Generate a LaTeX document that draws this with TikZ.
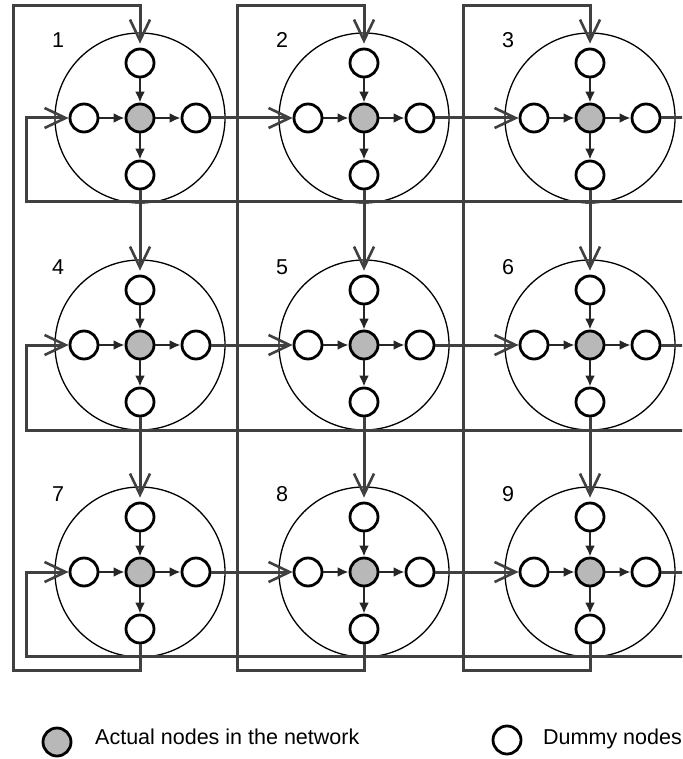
\documentclass[tikz,border=0pt]{standalone}
\usepackage{fontspec}
\setmainfont{Liberation Sans}
\usetikzlibrary{arrows.meta}
\begin{document}
\begin{tikzpicture}[x=1pt,y=-1pt,
  conn/.style={line width=3pt, draw=black!75},
  bigc/.style={circle, draw=black, line width=1.3pt, minimum size=170pt, inner sep=0pt},
  dummy/.style={circle, draw=black, line width=2.8pt, fill=white, minimum size=28pt, inner sep=0pt},
  actual/.style={circle, draw=black, line width=2.8pt, fill=black!28, minimum size=28pt, inner sep=0pt},
  inner/.style={line width=2.4pt, draw=black!85, -{Latex[length=11pt,width=10pt]}},
  entry/.style={conn, -{Straight Barb[length=21pt,width=20pt,line width=2.6pt]}},
  lab/.style={font=\fontsize{21.5}{24}\selectfont, inner sep=0pt}
]
\useasboundingbox (0,0) rectangle (682,759);
\clip (0,0) rectangle (682,759);

\foreach \i/\x/\y in {1/140/118, 2/364/118, 3/590/118,
                      4/140/345, 5/364/345, 6/590/345,
                      7/140/572, 8/364/572, 9/590/572} {
  \node[bigc] (B\i) at (\x,\y) {};
  \node[actual] (c\i) at (\x,\y) {};
  \node[dummy] (t\i) at (\x,\y-55) {};
  \node[dummy] (b\i) at (\x,\y+57) {};
  \node[dummy] (l\i) at (\x-56,\y) {};
  \node[dummy] (r\i) at (\x+56,\y) {};
  \node[lab] (n\i) at (\x-82,\y-78) {\i};
  \draw[inner] (t\i) -- (c\i);
  \draw[inner] (l\i) -- (c\i);
  \draw[inner] (c\i) -- (r\i);
  \draw[inner] (c\i) -- (b\i);
}

% horizontal links
\foreach \a/\b in {1/2, 2/3, 4/5, 5/6, 7/8, 8/9}
  \draw[entry] (r\a) -- (l\b);
% vertical links
\foreach \a/\b in {1/4, 2/5, 3/6, 4/7, 5/8, 6/9}
  \draw[entry, shorten >=4pt] (b\a) -- (t\b);

% row wrap-around
\foreach \r/\ry/\rl in {1/118/202, 2/345/430, 3/572/656} {
  \coordinate (rwA\r) at (720,\ry);
  \coordinate (rwB\r) at (720,\rl);
  \coordinate (rwC\r) at (26,\rl);
  \coordinate (rwD\r) at (26,\ry);
}
\draw[entry] (r3) -- (rwA1) -- (rwB1) -- (rwC1) -- (rwD1) -- (l1);
\draw[entry] (r6) -- (rwA2) -- (rwB2) -- (rwC2) -- (rwD2) -- (l4);
\draw[entry] (r9) -- (rwA3) -- (rwB3) -- (rwC3) -- (rwD3) -- (l7);

% column wrap-around
\foreach \c/\cx/\lx in {1/140/13, 2/364/237, 3/590/463} {
  \coordinate (cwA\c) at (\cx,670);
  \coordinate (cwB\c) at (\lx,670);
  \coordinate (cwC\c) at (\lx,6);
  \coordinate (cwD\c) at (\cx,6);
}
\draw[entry, shorten >=4pt] (b7) -- (cwA1) -- (cwB1) -- (cwC1) -- (cwD1) -- (t1);
\draw[entry, shorten >=4pt] (b8) -- (cwA2) -- (cwB2) -- (cwC2) -- (cwD2) -- (t2);
\draw[entry, shorten >=4pt] (b9) -- (cwA3) -- (cwB3) -- (cwC3) -- (cwD3) -- (t3);

% legend
\node[actual] (legA) at (57,742) {};
\node[lab, anchor=base west] (legAt) at (95,744) {Actual nodes in the network};
\node[dummy] (legD) at (507,740) {};
\node[lab, anchor=base west] (legDt) at (543,744) {Dummy nodes};
\end{tikzpicture}
\end{document}
